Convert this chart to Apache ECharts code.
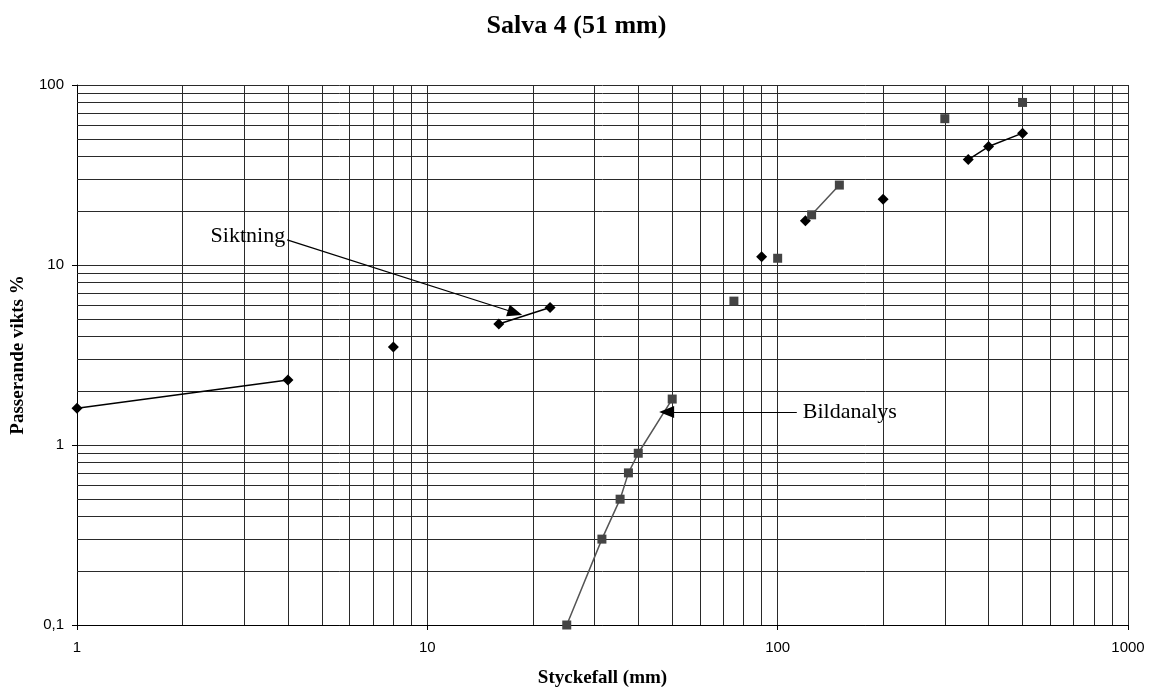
<!DOCTYPE html>
<html>
<head>
<meta charset="utf-8">
<script src="https://cdn.jsdelivr.net/npm/echarts@6/dist/echarts.min.js"></script>
<style>
html,body{margin:0;padding:0;background:#fff;}
#chart{width:1153px;height:693px;}
</style>
</head>
<body>
<div id="chart"></div>
<script>
// ---- data ----
const siktX = [1, 4, 8, 16, 22.4, 90, 120, 200, 350, 400, 500];
const siktY = [1.6, 2.3, 3.5, 4.7, 5.8, 11.1, 17.6, 23.2, 38.5, 45.5, 54];
const siktSeg = [0, 0, 1, 2, 2, 3, 4, 5, 6, 6, 6];
const bildX = [25, 31.5, 35.5, 37.5, 40, 50, 75, 100, 125, 150, 300, 500];
const bildY = [0.1, 0.3, 0.5, 0.7, 0.9, 1.8, 6.3, 10.9, 19, 27.8, 65, 80];
const bildSeg = [0, 0, 0, 0, 0, 0, 1, 2, 3, 3, 4, 5];
const xDecades = [1, 10, 100];
const yDecades = [0.1, 1, 10];
const siktArrow = [[3.98, 13.8], [17.8, 5.43]];
const bildArrow = [[113.4, 1.526], [48.2, 1.526]];

function build(xs, ys, seg) {
  const out = [];
  for (let i = 0; i < xs.length; i++) {
    if (i > 0 && seg[i] !== seg[i - 1]) out.push(['-', '-']);
    out.push([xs[i], ys[i]]);
  }
  return out;
}
function minors(decades) {
  const r = [];
  decades.forEach(d => { for (let m = 2; m <= 9; m++) r.push(+(m * d).toPrecision(6)); });
  return r;
}

const gridColor = '#2a2a2a';
const serif = 'Liberation Serif';
const sans = 'Liberation Sans';

const gridLines = [].concat(
  minors(xDecades).map(v => ({ xAxis: v })),
  minors(yDecades).map(v => ({ yAxis: v }))
);

const chart = echarts.init(document.getElementById('chart'), null, { renderer: 'canvas' });
chart.setOption({
  animation: false,
  backgroundColor: '#fff',
  title: {
    text: 'Salva 4 (51 mm)',
    left: 'center',
    top: 8,
    textStyle: { fontFamily: serif, fontWeight: 'bold', fontSize: 26, color: '#000' }
  },
  grid: { left: 77, right: 25, top: 85, bottom: 64, containLabel: false },
  xAxis: {
    type: 'log', logBase: 10, min: 1, max: 1000,
    name: 'Styckefall (mm)', nameLocation: 'middle', nameGap: 44,
    nameTextStyle: { fontFamily: serif, fontWeight: 'bold', fontSize: 19, color: '#000' },
    axisLine: { lineStyle: { color: '#000', width: 1 } },
    axisTick: { show: true, length: 5, lineStyle: { color: '#000' } },
    axisLabel: { margin: 15, fontFamily: sans, fontSize: 15, color: '#000', formatter: v => String(v) },
    splitLine: { show: true, lineStyle: { color: gridColor, width: 1 } },
    minorTick: { show: false }, minorSplitLine: { show: false }
  },
  yAxis: {
    type: 'log', logBase: 10, min: 0.1, max: 100,
    name: 'Passerande vikts %', nameLocation: 'middle', nameGap: 48, nameRotate: 90,
    nameTextStyle: { fontFamily: serif, fontWeight: 'bold', fontSize: 19, color: '#000' },
    axisLine: { show: true, lineStyle: { color: '#000', width: 1 } },
    axisTick: { show: true, length: 5, lineStyle: { color: '#000' } },
    axisLabel: { margin: 13, fontFamily: sans, fontSize: 15, color: '#000',
      formatter: v => String(+v.toPrecision(6)).replace('.', ',') },
    splitLine: { show: true, lineStyle: { color: gridColor, width: 1 } },
    minorTick: { show: false }, minorSplitLine: { show: false }
  },
  series: [
    {
      name: 'Siktning', type: 'line', z: 3,
      data: build(siktX, siktY, siktSeg),
      connectNulls: false,
      symbol: 'diamond', symbolSize: 11,
      itemStyle: { color: '#000' },
      lineStyle: { color: '#000', width: 1.5 },
      markLine: {
        silent: true, symbol: 'none', animation: false,
        label: { show: false },
        lineStyle: { color: gridColor, width: 1, type: 'solid' },
        data: gridLines, z: 1
      }
    },
    {
      name: 'Bildanalys', type: 'line', z: 4,
      data: build(bildX, bildY, bildSeg),
      connectNulls: false,
      symbol: 'rect', symbolSize: 9,
      itemStyle: { color: '#444' },
      lineStyle: { color: '#555', width: 1.5 }
    },
    {
      name: 'annot', type: 'line', z: 5, data: [],
      markLine: {
        silent: true, animation: false,
        symbol: ['none', 'triangle'], symbolSize: [12, 15],
        label: { show: false },
        lineStyle: { color: '#000', width: 1.2, type: 'solid' },
        data: [
          [{ coord: siktArrow[0] }, { coord: siktArrow[1] }],
          [{ coord: bildArrow[0] }, { coord: bildArrow[1] }]
        ]
      },
      markPoint: {
        silent: true, animation: false,
        symbol: 'circle', symbolSize: 0,
        data: [
          { coord: siktArrow[0], label: { show: true, position: 'left', distance: 2, offset: [0, -4], formatter: 'Siktning', fontFamily: serif, fontSize: 22, color: '#000' } },
          { coord: bildArrow[0], label: { show: true, position: 'right', distance: 6, offset: [0, 0], formatter: 'Bildanalys', fontFamily: serif, fontSize: 22, color: '#000' } }
        ]
      }
    }
  ]
});
</script>
</body>
</html>
